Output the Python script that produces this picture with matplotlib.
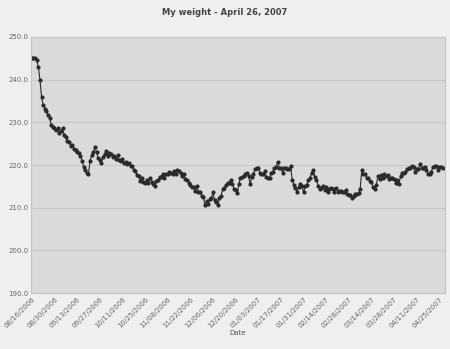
import numpy as np
import matplotlib
matplotlib.use("Agg")
import matplotlib.pyplot as plt

# daily weight readings, 08/16/2006 .. 04/26/2007
weight = [
    245.0, 245.0, 245.0, 244.6, 243.0, 240.0, 236.0, 234.0, 233.2, 232.7,
    231.7, 231.0, 229.4, 229.0, 228.6, 228.2, 228.6, 227.6, 228.0, 228.6,
    227.0, 226.6, 225.6, 225.4, 224.4, 224.8, 223.8, 223.5, 223.0, 222.9,
    222.2, 221.0, 219.6, 218.9, 218.2, 218.0, 221.0, 222.4, 223.0, 224.2,
    223.0, 221.6, 221.2, 220.6, 222.0, 222.6, 223.2, 222.2, 222.8, 222.6,
    222.0, 222.2, 221.5, 222.3, 221.2, 221.0, 221.4, 220.6, 220.8, 220.2,
    220.4, 219.8, 219.8, 218.8, 218.6, 217.6, 217.4, 216.3, 217.0, 216.0,
    215.8, 216.6, 215.8, 217.0, 216.0, 215.6, 215.2, 216.2, 216.4, 217.2,
    217.2, 218.0, 217.0, 217.8, 217.8, 218.4, 218.2, 217.8, 218.7, 218.0,
    218.8, 218.6, 218.2, 217.4, 218.0, 216.8, 216.6, 215.8, 215.4, 214.8,
    214.8, 214.0, 215.0, 213.8, 213.6, 212.8, 212.6, 210.7, 211.6, 210.8,
    212.0, 212.2, 213.6, 211.8, 211.4, 210.6, 212.2, 212.8, 214.4, 214.6,
    215.4, 215.8, 215.8, 216.6, 215.6, 214.4, 214.2, 213.4, 215.6, 217.0,
    217.2, 217.4, 218.0, 218.2, 217.4, 215.6, 217.2, 218.0, 219.0, 219.4,
    219.2, 218.2, 217.8, 217.8, 218.6, 217.2, 217.0, 217.0, 218.2, 218.4,
    219.4, 219.6, 220.8, 219.4, 219.2, 218.2, 219.2, 219.2, 219.0, 219.0,
    219.8, 216.4, 215.4, 214.6, 213.8, 214.8, 215.6, 215.0, 213.6, 215.0,
    215.4, 216.6, 217.0, 218.2, 218.8, 217.2, 216.6, 215.2, 214.4, 214.6,
    215.2, 214.2, 214.8, 213.8, 214.4, 214.6, 214.4, 213.6, 214.6, 213.8,
    213.9, 214.0, 213.6, 213.6, 214.2, 213.3, 213.0, 213.0, 212.3, 212.8,
    213.2, 213.2, 213.4, 214.4, 218.8, 218.0, 217.8, 217.0, 217.0, 216.3,
    216.0, 214.8, 214.4, 215.4, 217.4, 216.8, 217.6, 217.0, 217.8, 217.5,
    217.6, 216.8, 217.0, 217.0, 216.8, 215.8, 216.6, 215.6, 217.4, 218.2,
    218.2, 218.4, 219.0, 219.2, 219.4, 219.8, 219.6, 218.4, 219.0, 219.0,
    220.2, 219.4, 219.4, 219.6, 218.8, 218.0, 217.9, 218.4, 219.6, 219.8,
    219.8, 218.8, 219.6, 219.6, 219.3,
]

date_labels = ["08/16/2006", "08/30/2006", "09/13/2006", "09/27/2006",
               "10/11/2006", "10/25/2006", "11/08/2006", "11/22/2006",
               "12/06/2006", "12/20/2006", "01/03/2007", "01/17/2007",
               "01/31/2007", "02/14/2007", "02/28/2007", "03/14/2007",
               "03/28/2007", "04/11/2007", "04/25/2007"]
y_ticks = [190, 200, 210, 220, 230, 240, 250]

days = np.arange(len(weight))
tick_pos = np.arange(len(date_labels)) * 14

fig = plt.figure(figsize=(4.5, 3.49), dpi=100, facecolor="#efefef")
ax = fig.add_axes([0.069, 0.160, 0.920, 0.734])
ax.set_facecolor("#dadada")

ax.plot(days, weight, color="#2a2a2a", lw=0.8, marker="o", ms=2.0,
        mec="#2a2a2a", mfc="#2a2a2a")

ax.set_ylim(190, 250)
ax.set_yticks(y_ticks)
ax.set_yticklabels(["%.1f" % v for v in y_ticks], fontsize=5, color="#666666")
ax.yaxis.grid(True, color="#c6c6c6", lw=0.7)
ax.set_axisbelow(True)

ax.set_xlim(-0.5, 255.5)
ax.set_xticks(tick_pos)
ax.set_xticklabels(date_labels, rotation=45, ha="right", rotation_mode="anchor",
                   fontsize=5, color="#666666")
ax.tick_params(length=0, pad=2)

for s in ax.spines.values():
    s.set_color("#c4c4c4")
    s.set_linewidth(0.8)

ax.set_xlabel("Date", fontsize=5, color="#555555", labelpad=1)
fig.text(0.5, 0.965, "My weight - April 26, 2007", ha="center", va="center",
         fontsize=6, fontweight="bold", color="#444444")

fig.savefig("out.png", dpi=100, facecolor=fig.get_facecolor())
